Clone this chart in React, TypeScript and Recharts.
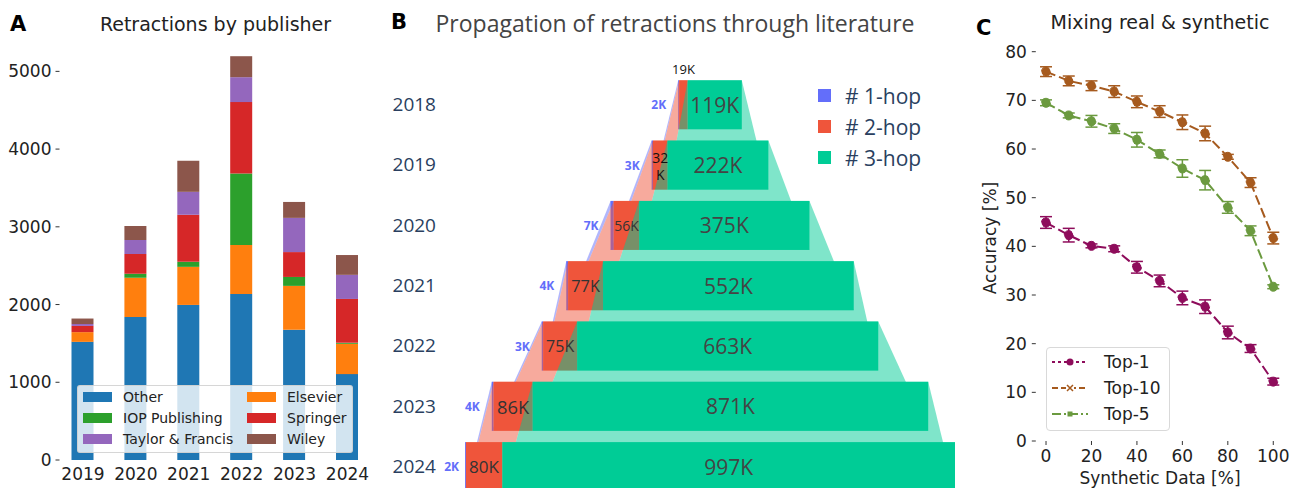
import { BarChart, Bar, XAxis, YAxis, LineChart, Line, ErrorBar } from 'recharts'

// ---- panel A: retractions by publisher ----
const years = ['2019', '2020', '2021', '2022', '2023', '2024']
const other = [1520, 1840, 1995, 2135, 1675, 1105]
const elsevier = [125, 505, 490, 630, 565, 390]
const iop = [0, 52, 65, 920, 115, 12]
const springer = [80, 253, 605, 920, 320, 565]
const taylorFrancis = [25, 180, 295, 320, 440, 310]
const wiley = [70, 180, 400, 270, 205, 255]
const publisherTicks = [0, 1000, 2000, 3000, 4000, 5000]

// ---- panel B: propagation (values in K) ----
const hopYears = ['2018', '2019', '2020', '2021', '2022', '2023', '2024']
const hop1 = [2, 3, 7, 4, 3, 4, 2]
const hop2 = [19, 32, 56, 77, 75, 86, 80]
const hop3 = [119, 222, 375, 552, 663, 871, 997]

// ---- panel C: mixing real & synthetic ----
const synthetic = [0, 10, 20, 30, 40, 50, 60, 70, 80, 90, 100]
const top1 = [44.9, 42.3, 40.1, 39.5, 35.7, 32.9, 29.4, 27.6, 22.3, 19.0, 12.2]
const top1Err = [1.2, 1.4, 0.4, 0.6, 1.2, 1.2, 1.4, 1.4, 1.3, 0.8, 0.7]
const top10 = [75.9, 74.0, 73.0, 71.8, 69.7, 67.7, 65.5, 63.2, 58.4, 53.1, 41.7]
const top10Err = [1.0, 1.0, 1.0, 1.2, 1.2, 1.2, 1.5, 1.5, 0.5, 1.0, 1.2]
const top5 = [69.5, 66.9, 65.7, 64.2, 61.9, 59.0, 56.0, 53.6, 48.0, 43.2, 31.7]
const top5Err = [0.6, 0.5, 1.2, 1.0, 1.5, 0.8, 1.8, 2.0, 1.2, 1.0, 0.4]
const accTicks = [0, 10, 20, 30, 40, 50, 60, 70, 80]
const synthTicks = [0, 20, 40, 60, 80, 100]

const publishers = [
  { key: 'other', name: 'Other', color: '#1f77b4', values: other },
  { key: 'elsevier', name: 'Elsevier', color: '#ff7f0e', values: elsevier },
  { key: 'iop', name: 'IOP Publishing', color: '#2ca02c', values: iop },
  { key: 'springer', name: 'Springer', color: '#d62728', values: springer },
  { key: 'tf', name: 'Taylor & Francis', color: '#9467bd', values: taylorFrancis },
  { key: 'wiley', name: 'Wiley', color: '#8c564b', values: wiley }
]
const legendCols = [['other', 'iop', 'tf'], ['elsevier', 'springer', 'wiley']]

const pubData = years.map((year, i) => {
  const row: any = { year }
  publishers.forEach(p => (row[p.key] = p.values[i]))
  return row
})

const hops = [
  { key: 'hop1', name: '# 1-hop', color: '#636efa', values: hop1 },
  { key: 'hop2', name: '# 2-hop', color: '#ef553b', values: hop2 },
  { key: 'hop3', name: '# 3-hop', color: '#00cc96', values: hop3 }
]
const totals = hopYears.map((_, i) => hop1[i] + hop2[i] + hop3[i])
const maxTotal = Math.max(...totals)
const funnelData = hopYears.map((year, i) => ({
  year,
  pad: (maxTotal - totals[i]) / 2,
  hop1: hop1[i],
  hop2: hop2[i],
  hop3: hop3[i]
}))

const mixData = synthetic.map((s, i) => ({
  s,
  top1: top1[i],
  top1Err: top1Err[i],
  top10: top10[i],
  top10Err: top10Err[i],
  top5: top5[i],
  top5Err: top5Err[i]
}))

const accSeries = [
  { key: 'top1', name: 'Top-1', color: '#8e0c5b' },
  { key: 'top10', name: 'Top-10', color: '#a65a1e' },
  { key: 'top5', name: 'Top-5', color: '#6b9a3f' }
]

const MPL = 'DejaVu Sans'
const PLOTLY = 'Open Sans'

// funnel geometry
const B_H = 500
const B_TOP = 74.3
const B_BOTTOM = 3.6
const ROW_STEP = (B_H - B_TOP - B_BOTTOM) / hopYears.length

const segStart = (row: number, s: number) => {
  let v = funnelData[row].pad
  for (let k = 0; k < s; k++) v += hops[k].values[row]
  return v
}

// each segment is joined to the same segment one row down (top of this row -> bottom of next)
const funnelShape = (s: number) => (props: any) => {
  const { x, y, width, height, payload } = props
  const row = hopYears.indexOf(payload.year)
  const vals = hops[s].values
  const ppu = width / vals[row]
  const color = hops[s].color
  const out: any[] = [<rect key="r" x={x} y={y} width={width} height={height} fill={color} />]
  if (row < hopYears.length - 1) {
    const nx = x + (segStart(row + 1, s) - segStart(row, s)) * ppu
    const nw = vals[row + 1] * ppu
    const ny = y + ROW_STEP + height
    out.push(
      <polygon
        key="c"
        points={`${x},${y} ${x + width},${y} ${nx + nw},${ny} ${nx},${ny}`}
        fill={color}
        fillOpacity={0.5}
      />
    )
  }
  if (s === 2) {
    const cy = y + height / 2
    out.push(
      <text key="t3" x={x + width / 2} y={cy} textAnchor="middle" dominantBaseline="central"
        fontFamily={PLOTLY} fontSize={21} fill="#444">{`${vals[row]}K`}</text>
    )
    const w2 = hop2[row] * ppu
    const c2 = x - w2 / 2
    if (w2 < 12) {
      out.push(
        <text key="t2" x={c2} y={y - 6} textAnchor="middle" fontFamily={PLOTLY} fontSize={13} fill="#111">{`${hop2[row]}K`}</text>
      )
    } else if (w2 < 22) {
      out.push(
        <text key="t2a" x={c2} y={cy - 8} textAnchor="middle" dominantBaseline="central" fontFamily={PLOTLY} fontSize={14} fill="#111">{hop2[row]}</text>,
        <text key="t2b" x={c2} y={cy + 9} textAnchor="middle" dominantBaseline="central" fontFamily={PLOTLY} fontSize={14} fill="#111">K</text>
      )
    } else {
      const fs = Math.max(14, Math.min(20, w2 * 0.47))
      out.push(
        <text key="t2" x={c2} y={cy} textAnchor="middle" dominantBaseline="central" fontFamily={PLOTLY} fontSize={fs} fill="#333">{`${hop2[row]}K`}</text>
      )
    }
    const left = x - (hop2[row] + hop1[row]) * ppu
    const plotLeft = x - segStart(row, 2) * ppu
    const end = Math.max(left - 12, plotLeft - 6)
    out.push(
      <text key="t1" x={end} y={cy} textAnchor="end" dominantBaseline="central" fontFamily={PLOTLY}
        fontSize={12} fontWeight="bold" fill="#636efa">{`${hop1[row]}K`}</text>
    )
  }
  return <g>{out}</g>
}

const DashTick = ({ x, y, payload }: any) => (
  <g>
    <line x1={x - 1} x2={x + 3} y1={y} y2={y} stroke="#333" />
    <text x={x - 5} y={y} textAnchor="end" dominantBaseline="central" fontFamily={MPL} fontSize={17} fill="#222">
      {payload.value}
    </text>
  </g>
)

const LegendHandle = ({ name, color }: { name: string; color: string }) => {
  if (name === 'Top-1')
    return (
      <svg width={36} height={12}>
        <line x1={0} x2={36} y1={6} y2={6} stroke={color} strokeWidth={2} strokeDasharray="3 3" />
        <circle cx={18} cy={6} r={3.5} fill={color} />
      </svg>
    )
  if (name === 'Top-10')
    return (
      <svg width={36} height={12}>
        <line x1={0} x2={36} y1={6} y2={6} stroke={color} strokeWidth={2} strokeDasharray="6 3" />
        <rect x={14} y={2} width={8} height={8} fill="#fff" />
        <path d="M15 3 L21 9 M21 3 L15 9" stroke={color} strokeWidth={1.5} />
      </svg>
    )
  return (
    <svg width={36} height={12}>
      <line x1={0} x2={36} y1={6} y2={6} stroke={color} strokeWidth={2} strokeDasharray="9 3 2 3" />
      <rect x={15.5} y={3.5} width={5} height={5} fill={color} />
    </svg>
  )
}

export default function App() {
  return (
    <div style={{ position: 'absolute', left: 0, top: 0, width: 1292, height: 488, overflow: 'hidden', background: '#fff' }}>
      {/* Panel A */}
      <div style={{ position: 'absolute', left: 0, top: 0 }}>
        <BarChart width={380} height={488} data={pubData} margin={{ top: 32.5, right: 6.1, bottom: 0, left: 6.5 }}>
          <XAxis dataKey="year" axisLine={false} tickLine={false} tickSize={0} tickMargin={8} height={28} interval={0}
            tick={{ fontFamily: MPL, fontSize: 17, fill: '#222' }} />
          <YAxis type="number" domain={[0, 5500]} ticks={publisherTicks} width={50} axisLine={false} tickLine={false}
            tickSize={0} tickMargin={0} tick={<DashTick />} />
          {publishers.map(p => (
            <Bar key={p.key} dataKey={p.key} stackId="pub" fill={p.color} barSize={22} isAnimationActive={false} />
          ))}
        </BarChart>
      </div>
      <div style={{ position: 'absolute', left: 77, top: 385, width: 276, height: 68, background: 'rgba(255,255,255,0.8)',
        border: '1px solid rgba(204,204,204,0.8)', borderRadius: 3, boxSizing: 'border-box', fontFamily: MPL, fontSize: 14, color: '#222' }}>
        {legendCols.map((col, ci) =>
          col.map((k, ri) => {
            const p = publishers.find(q => q.key === k)!
            return (
              <div key={k} style={{ position: 'absolute', left: ci === 0 ? 5 : 169, top: 10.7 + ri * 21 - 8, height: 16, display: 'flex', alignItems: 'center' }}>
                <div style={{ width: 29, height: 10, background: p.color }} />
                <span style={{ marginLeft: 11, whiteSpace: 'nowrap' }}>{p.name}</span>
              </div>
            )
          })
        )}
      </div>

      {/* Panel B */}
      <div style={{ position: 'absolute', left: 380, top: 0 }}>
        <BarChart width={600} height={B_H} data={funnelData} layout="vertical" barCategoryGap={0}
          margin={{ top: B_TOP, right: 25, bottom: B_BOTTOM, left: 5 }}>
          <XAxis type="number" hide domain={[0, maxTotal]} />
          <YAxis type="category" dataKey="year" width={80} axisLine={false} tickLine={false} tickSize={0} tickMargin={29}
            interval={0} tick={{ fontFamily: PLOTLY, fontSize: 19, fill: '#2a3f5f' }} />
          <Bar dataKey="pad" stackId="f" fill="transparent" barSize={49} isAnimationActive={false} />
          {hops.map((h, s) => (
            <Bar key={h.key} dataKey={h.key} stackId="f" fill={h.color} barSize={49} isAnimationActive={false} shape={funnelShape(s)} />
          ))}
        </BarChart>
      </div>
      <div style={{ position: 'absolute', left: 818, top: 80, fontFamily: PLOTLY, fontSize: 21, color: '#2a3f5f' }}>
        {hops.map((h, i) => (
          <div key={h.key} style={{ position: 'absolute', left: 0, top: i * 31, height: 31, display: 'flex', alignItems: 'center', whiteSpace: 'nowrap' }}>
            <div style={{ width: 13, height: 13, background: h.color }} />
            <span style={{ marginLeft: 14 }}>{h.name}</span>
          </div>
        ))}
      </div>

      {/* Panel C */}
      <div style={{ position: 'absolute', left: 980, top: 0 }}>
        <LineChart width={312} height={488} data={mixData} margin={{ top: 51.7, right: 8.5, bottom: 17, left: 15.8 }}>
          <XAxis dataKey="s" type="number" domain={[-4.5, 104.5]} ticks={synthTicks} axisLine={false} tickSize={4} tickMargin={5}
            height={30} tickLine={{ stroke: '#333' }} tick={{ fontFamily: MPL, fontSize: 17, fill: '#222' }} />
          <YAxis type="number" domain={[0, 80]} ticks={accTicks} width={40} axisLine={false} tickSize={4} tickMargin={5}
            tickLine={{ stroke: '#333' }} tick={{ fontFamily: MPL, fontSize: 17, fill: '#222' }} />
          {accSeries.map(a => (
            <Line key={a.key} dataKey={a.key} type="linear" stroke={a.color} strokeWidth={2} strokeDasharray="10 4"
              dot={{ r: 4.5, fill: a.color, stroke: a.color, strokeWidth: 1 }} activeDot={false} isAnimationActive={false}>
              <ErrorBar dataKey={`${a.key}Err`} direction="y" width={6} strokeWidth={1.5} stroke={a.color} />
            </Line>
          ))}
        </LineChart>
      </div>
      <div style={{ position: 'absolute', left: 1046, top: 347, width: 124, height: 84, background: 'rgba(255,255,255,0.8)',
        border: '1px solid #d9d9d9', borderRadius: 4, boxSizing: 'border-box', fontFamily: MPL, fontSize: 17, color: '#222' }}>
        {accSeries.map((a, i) => (
          <div key={a.key} style={{ position: 'absolute', left: 5, top: 14 + i * 26 - 10, height: 20, display: 'flex', alignItems: 'center' }}>
            <LegendHandle name={a.name} color={a.color} />
            <span style={{ marginLeft: 16, whiteSpace: 'nowrap' }}>{a.name}</span>
          </div>
        ))}
      </div>

      {/* titles and labels */}
      <svg width={1292} height={488} style={{ position: 'absolute', left: 0, top: 0, pointerEvents: 'none' }}>
        <text x={10} y={24} dominantBaseline="central" fontFamily={MPL} fontWeight="bold" fontSize={21} fill="#000">A</text>
        <text x={215.5} y={24} textAnchor="middle" dominantBaseline="central" fontFamily={MPL} fontSize={19} fill="#222">
          Retractions by publisher
        </text>
        <text x={391} y={22} dominantBaseline="central" fontFamily={MPL} fontWeight="bold" fontSize={21} fill="#000">B</text>
        <text x={675} y={23} textAnchor="middle" dominantBaseline="central" fontFamily={PLOTLY} fontSize={23} fill="#444">
          Propagation of retractions through literature
        </text>
        <text x={976} y={27.5} dominantBaseline="central" fontFamily={MPL} fontWeight="bold" fontSize={21} fill="#000">C</text>
        <text x={1160} y={22} textAnchor="middle" dominantBaseline="central" fontFamily={MPL} fontSize={19} fill="#222">
          Mixing real &amp; synthetic
        </text>
        <text x={1160} y={478} textAnchor="middle" dominantBaseline="central" fontFamily={MPL} fontSize={17} fill="#222">
          Synthetic Data [%]
        </text>
        <text x={990} y={238} textAnchor="middle" dominantBaseline="central" fontFamily={MPL} fontSize={17} fill="#222"
          transform="rotate(-90 990 238)">
          Accuracy [%]
        </text>
      </svg>
    </div>
  )
}
